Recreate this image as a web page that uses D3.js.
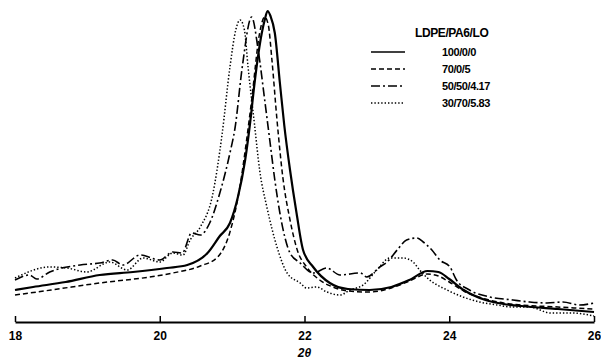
<!DOCTYPE html>
<html>
<head>
<meta charset="utf-8">
<script src="https://cdn.jsdelivr.net/npm/d3@7"></script>
<style>
  body { margin: 0; background: #fff; }
  svg text { font-family: "Liberation Sans", Arial, sans-serif; font-weight: bold; fill: #000; }
</style>
</head>
<body>
<div id="chart"></div>
<script>
// 2-theta positions and intensities (arbitrary units)
const tSolid = [18.0,18.25,18.7,19.17,19.63,20.1,20.38,20.66,20.83,20.97,21.08,21.18,21.25,21.31,21.41,21.45,21.49,21.53,21.59,21.66,21.72,21.8,21.89,21.98,22.12,22.35,22.6,22.9,23.2,23.45,23.7,23.85,24.0,24.2,24.5,24.75,25.0,25.5,26.0];
const iSolid = [32,35,40,47,50,54,57,69,86,99,125,162,200,239,289,302,311,306,289,239,197,152,109,72,55,39,33,32,35,42,51,50,43,32,22,18,16,13,10];

const tDashed = [18.0,18.5,19.17,19.86,20.18,20.56,20.8,20.97,21.1,21.2,21.27,21.38,21.45,21.5,21.55,21.62,21.7,21.8,21.9,22.03,22.21,22.39,22.6,22.9,23.2,23.45,23.7,23.85,24.0,24.2,24.5,24.75,25.0,25.5,26.0];
const iDashed = [27,32,39,45,49,56,65,90,132,182,222,289,305,297,262,202,145,102,72,55,42,35,31,30,34,41,48,46,40,31,23,19,17,15,13];

const tDashDot = [18.0,18.2,18.3,18.48,18.9,19.17,19.35,19.49,19.73,20.0,20.18,20.31,20.44,20.56,20.69,20.83,20.97,21.04,21.14,21.27,21.36,21.45,21.52,21.59,21.66,21.8,21.94,22.12,22.31,22.49,22.77,22.86,23.04,23.14,23.28,23.41,23.55,23.64,23.76,23.87,24.01,24.1,24.28,24.56,24.88,25.11,25.35,25.57,25.8,26.0];
const iDashDot = [42,47,43,50,57,59,62,57,67,62,70,69,89,87,99,129,169,194,255,305,272,222,182,142,109,69,59,49,54,47,49,45,55,60,72,82,84,80,72,62,55,42,32,25,22,20,19,20,17,19];

const tDotted = [18.0,18.48,18.72,18.99,19.31,19.55,19.77,20.0,20.18,20.32,20.42,20.56,20.73,20.86,20.97,21.05,21.11,21.17,21.22,21.31,21.38,21.48,21.62,21.76,21.94,22.03,22.17,22.31,22.49,22.63,22.81,23.0,23.18,23.36,23.5,23.59,23.73,23.97,24.19,24.42,24.66,24.88,25.11,25.4,25.7,26.0];
const iDotted = [44,55,54,50,60,52,64,60,69,67,82,95,127,187,255,292,302,292,255,197,152,115,75,49,39,34,35,30,27,32,37,52,64,64,60,52,42,32,25,20,17,15,15,9,9,6];

const legendTitle = "LDPE/PA6/LO";
const seriesNames = ["100/0/0", "70/0/5", "50/50/4.17", "30/70/5.83"];
const xTicks = [18, 20, 22, 24, 26];

const width = 601, height = 362;

const svg = d3.select("#chart").append("svg")
  .attr("width", width)
  .attr("height", height);

const x = d3.scaleLinear().domain([18, 26]).range([15, 594]);
const y = d3.scaleLinear().domain([0, 300]).range([322, 22]);

const series = [
  { name: seriesNames[0], t: tSolid, v: iSolid, dash: null, w: 2.2 },
  { name: seriesNames[1], t: tDashed, v: iDashed, dash: "5,3", w: 1.5 },
  { name: seriesNames[2], t: tDashDot, v: iDashDot, dash: "9,3,2,3", w: 1.6 },
  { name: seriesNames[3], t: tDotted, v: iDotted, dash: "1.4,2", w: 1.5 }
];

const line = d3.line()
  .x(d => x(d[0]))
  .y(d => y(d[1]))
  .curve(d3.curveMonotoneX);

svg.append("g").selectAll("path")
  .data(series)
  .enter()
  .append("path")
  .attr("d", s => line(s.t.map((t, i) => [t, s.v[i]])))
  .attr("fill", "none")
  .attr("stroke", "#000")
  .attr("stroke-width", s => s.w)
  .attr("stroke-dasharray", s => s.dash);

// bottom axis, ticks pointing up
const axis = svg.append("g")
  .attr("transform", "translate(0,322)")
  .call(d3.axisBottom(x).tickValues(xTicks).tickSize(-6).tickSizeOuter(0).tickPadding(8));
axis.select(".domain").attr("stroke", "#000").attr("stroke-width", 2);
axis.selectAll(".tick line").attr("stroke", "#000").attr("stroke-width", 1.5);
axis.selectAll(".tick text")
  .attr("font-size", 12)
  .attr("font-family", "Liberation Sans, Arial, sans-serif")
  .attr("font-weight", "bold")
  .attr("y", 9)
  .attr("dy", "0.71em");

svg.append("text")
  .attr("x", x(22))
  .attr("y", 357)
  .attr("text-anchor", "middle")
  .attr("font-size", 12)
  .attr("font-style", "italic")
  .text("2θ");

// legend
svg.append("text")
  .attr("x", 415)
  .attr("y", 37)
  .attr("font-size", 12)
  .attr("letter-spacing", "-0.4")
  .text(legendTitle);

const leg = svg.append("g").selectAll("g")
  .data(series)
  .enter()
  .append("g")
  .attr("transform", (s, i) => "translate(0," + [52, 69, 86, 103][i] + ")");

leg.append("line")
  .attr("x1", 371).attr("x2", 405)
  .attr("stroke", "#000")
  .attr("stroke-width", s => Math.min(s.w, 1.6))
  .attr("stroke-dasharray", s => s.dash);

leg.append("text")
  .attr("x", 442)
  .attr("y", 4)
  .attr("font-size", 11)
  .attr("letter-spacing", "-0.4")
  .text(s => s.name);
</script>
</body>
</html>
